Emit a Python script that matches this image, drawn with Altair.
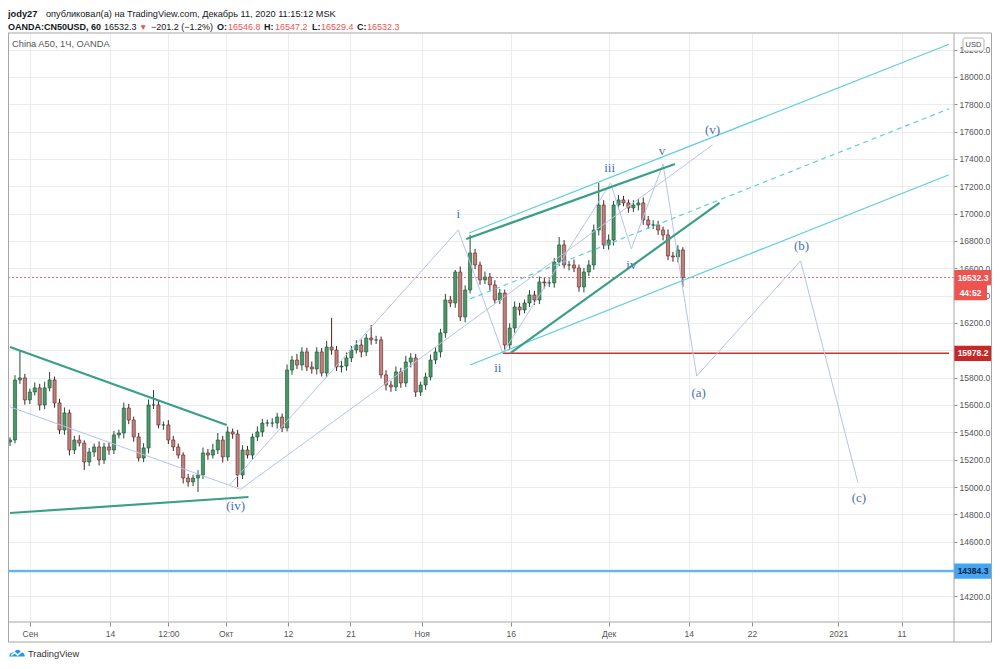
import json
import altair as alt
import pandas as pd

# ---------------- data ----------------
# hourly candles aggregated: one bar per step, closes in price units
closes = [15344, 15783, 15798, 15637, 15695, 15725, 15600, 15725, 15783, 15615,
          15417, 15542, 15271, 15344, 15322, 15183, 15256, 15293, 15198, 15293,
          15271, 15381, 15395, 15578, 15490, 15366, 15212, 15286, 15600, 15600,
          15454, 15454, 15344, 15293, 15234, 15066, 15037, 15066, 15088, 15249,
          15234, 15271, 15344, 15220, 15403, 15388, 15088, 15271, 15234, 15366,
          15403, 15468, 15468, 15468, 15512, 15432, 15856, 15929, 15893, 15988,
          15878, 15864, 15988, 15834, 16024, 16002, 15878, 15885, 15944, 16002,
          16039, 15988, 16090, 16076, 16076, 15820, 15746, 15732, 15842, 15761,
          15915, 15944, 15695, 15746, 15805, 15929, 15988, 16127, 16368, 16346,
          16573, 16244, 16441, 16712, 16624, 16515, 16536, 16478, 16368, 16419,
          16039, 16163, 16317, 16295, 16346, 16405, 16368, 16500, 16493, 16493,
          16646, 16771, 16624, 16624, 16602, 16463, 16573, 16624, 16880, 17063,
          16771, 16807, 17063, 17100, 17078, 17041, 17063, 17078, 16953, 16917,
          16917, 16880, 16844, 16690, 16683, 16734, 16532.3]
first_open = 15330
upper_wick = [20, 35, 204, 30, 25, 40, 30, 45, 59, 25,
              30, 40, 25, 30, 35, 20, 30, 25, 40, 30,
              35, 30, 25, 40, 30, 25, 30, 35, 40, 110,
              30, 25, 35, 30, 25, 20, 30, 25, 35, 40,
              30, 45, 51, 30, 40, 25, 30, 35, 30, 25,
              40, 30, 25, 35, 30, 25, 40, 30, 45, 35,
              30, 40, 35, 30, 45, 213, 30, 35, 40, 30,
              35, 40, 30, 95, 30, 25, 35, 30, 40, 30,
              45, 35, 30, 25, 30, 40, 35, 30, 45, 30,
              15, 40, 35, 132, 30, 25, 40, 30, 35, 30,
              25, 35, 40, 30, 25, 35, 30, 40, 30, 35,
              30, 58, 35, 30, 40, 25, 30, 35, 40, 161,
              35, 40, 30, 35, 30, 25, 35, 30, 40, 30,
              35, 30, 25, 40, 30, 35, 20]
lower_wick = [30, 25, 30, 35, 30, 25, 40, 30, 25, 35,
              30, 35, 40, 30, 25, 58, 30, 35, 40, 30,
              35, 30, 25, 40, 30, 35, 25, 30, 40, 30,
              25, 35, 30, 30, 25, 40, 35, 30, 102, 30,
              35, 25, 30, 40, 30, 35, 88, 30, 25, 30,
              30, 35, 25, 30, 40, 30, 25, 35, 30, 40,
              30, 35, 40, 25, 30, 35, 30, 40, 35, 30,
              25, 40, 30, 35, 30, 25, 40, 35, 30, 35,
              30, 40, 36, 30, 35, 25, 30, 40, 35, 30,
              35, 30, 40, 25, 30, 35, 30, 40, 25, 30,
              37, 30, 35, 40, 25, 30, 35, 30, 40, 30,
              35, 30, 25, 40, 30, 35, 40, 30, 35, 40,
              30, 35, 40, 30, 25, 35, 30, 40, 35, 30,
              30, 35, 40, 30, 35, 40, 70]

# time axis (bar number -> label)
tick_t = [4, 20.2, 32, 43.6, 56.2, 68.8, 83.2, 101.2, 121, 137.2, 150, 167.4, 180.2]
tick_labels = ["Сен", "14", "12:00", "Окт", "12", "21", "Ноя", "16", "Дек", "14", "22", "2021", "11"]
price_ticks = list(range(14200, 18201, 200))

# drawing tools: thick teal trend lines (t1, p1, t2, p2)
teal_t1 = [0, 0, 92.2, 101.2]
teal_p1 = [16024, 14810, 16814, 15981]
teal_t2 = [43.8, 48.2, 134.4, 143.4]
teal_p2 = [15454, 14927, 17363, 17078]

# cyan channel lines
cyan_t1 = [92.8, 93]
cyan_p1 = [16858, 15893]
cyan_t2 = [189.8, 189.8]
cyan_p2 = [18239, 17284]
dash_t1, dash_p1, dash_t2, dash_p2 = 93, 16376, 189.8, 17767

# lavender helper lines
lav_t1 = [0, 46.4]
lav_p1 = [15586, 14978]
lav_t2 = [46.4, 142]
lav_p2 = [14986, 17502]

# wave path
wave_t = [44.4, 90.6, 99.6, 121.4, 125.6, 132, 138.8, 159.8, 171.4]
wave_p = [15015, 16880, 15981, 17224, 16741, 17363, 15812, 16654, 15030]

# wave labels
lab_text = ["i", "ii", "iii", "iv", "v", "(v)", "(iv)", "(a)", "(b)", "(c)"]
lab_t = [90.6, 98.6, 121.2, 125.6, 131.8, 142, 45.6, 139.2, 160, 171.6]
lab_p = [16997, 15871, 17334, 16624, 17458, 17612, 14861, 15688, 16763, 14920]

support_level = 15978.2
support_start_t = 99.6
blue_level = 14384.3
last_price = 16532.3

# ---------------- build tables ----------------
opens = [first_open] + closes[:-1]
cdf = pd.DataFrame({
    "t": list(range(len(closes))),
    "open": opens,
    "close": closes,
})
cdf["high"] = [max(o, c) + w for o, c, w in zip(opens, closes, upper_wick)]
cdf["low"] = [min(o, c) - w for o, c, w in zip(opens, closes, lower_wick)]

W, H = 946, 589          # plot area
RW = 38                  # right price-axis strip
xs = alt.Scale(domain=[0.6, 189.8], nice=False, zero=False)
ys = alt.Scale(domain=[14012.7, 18321.0], nice=False, zero=False)

label_map = {str(t): l for t, l in zip(tick_t, tick_labels)}
label_expr = "(" + json.dumps(label_map, ensure_ascii=False) + ")[''+datum.value]"

FONT = "Liberation Sans"
xaxis = alt.Axis(values=tick_t, labelExpr=label_expr, grid=True, gridColor="#ececec",
                 domain=False, ticks=True, tickSize=4, tickColor="#8c8c8c",
                 labelFont=FONT, labelFontSize=8.5, labelColor="#555555",
                 labelPadding=3, title=None, labelFlush=False, labelOverlap=False)
yaxis = alt.Axis(orient="right", values=price_ticks, format=".1f", grid=True,
                 gridColor="#ececec", domain=False, ticks=True, tickSize=3,
                 tickColor="#8c8c8c", labelFont=FONT, labelFontSize=8.5,
                 labelColor="#555555", labelPadding=2, labelAlign="left",
                 title=None, labelFlush=False, labelOverlap=False)


def X(f):
    return alt.X(f, type="quantitative", scale=xs, axis=xaxis)


def Y(f):
    return alt.Y(f, type="quantitative", scale=ys, axis=yaxis)


layers = []

# horizontal levels
lvl = pd.DataFrame({"p": [last_price]})
layers.append(alt.Chart(lvl).mark_rule(color="#f26d69", strokeWidth=1, strokeDash=[2, 2],
                                       strokeCap="butt", opacity=1).encode(
    y=Y("p"), x=alt.value(0), x2=alt.value(W)))
blue = pd.DataFrame({"p": [blue_level]})
layers.append(alt.Chart(blue).mark_rule(color="#64b5f6", strokeWidth=2.2).encode(
    y=Y("p"), x=alt.value(0), x2=alt.value(W)))

# candles
up = "datum.close >= datum.open"
layers.append(alt.Chart(cdf).mark_rule(strokeWidth=1).encode(
    x=X("t"), y=Y("low"), y2="high",
    color=alt.condition(up, alt.value("#1d4f33"), alt.value("#4e1f1f"))))
layers.append(alt.Chart(cdf).mark_bar(size=3.2, strokeWidth=0.6).encode(
    x=X("t"), y=Y("open"), y2="close",
    fill=alt.condition(up, alt.value("#4a9868"), alt.value("#c0807b")),
    stroke=alt.condition(up, alt.value("#1d4f33"), alt.value("#5a2424"))))

# support red line
sup = pd.DataFrame({"t": [support_start_t], "t2": [189.8], "p": [support_level]})
layers.append(alt.Chart(sup).mark_rule(color="#d32f2f", strokeWidth=1.5).encode(
    x=X("t"), x2="t2", y=Y("p")))

# lavender helper lines + wave path
lav = pd.DataFrame({"t": lav_t1, "p": lav_p1, "t2": lav_t2, "p2": lav_p2})
layers.append(alt.Chart(lav).mark_rule(color="#b4c3e8", strokeWidth=1).encode(
    x=X("t"), y=Y("p"), x2="t2", y2="p2"))
wave = pd.DataFrame({"t": wave_t, "p": wave_p, "o": list(range(len(wave_t)))})
layers.append(alt.Chart(wave).mark_line(color="#b4c3e8", strokeWidth=1).encode(
    x=X("t"), y=Y("p"), order="o:Q"))

# cyan channel
cy = pd.DataFrame({"t": cyan_t1, "p": cyan_p1, "t2": cyan_t2, "p2": cyan_p2})
layers.append(alt.Chart(cy).mark_rule(color="#5ccfe0", strokeWidth=1.2).encode(
    x=X("t"), y=Y("p"), x2="t2", y2="p2"))
dsh = pd.DataFrame({"t": [dash_t1], "p": [dash_p1], "t2": [dash_t2], "p2": [dash_p2]})
layers.append(alt.Chart(dsh).mark_rule(color="#5ccfe0", strokeWidth=1.2, strokeDash=[5, 4]).encode(
    x=X("t"), y=Y("p"), x2="t2", y2="p2"))

# teal trend lines
tl = pd.DataFrame({"t": teal_t1, "p": teal_p1, "t2": teal_t2, "p2": teal_p2})
layers.append(alt.Chart(tl).mark_rule(color="#3a9f88", strokeWidth=2.2).encode(
    x=X("t"), y=Y("p"), x2="t2", y2="p2"))

# wave labels
lab = pd.DataFrame({"t": lab_t, "p": lab_p, "txt": lab_text})
layers.append(alt.Chart(lab).mark_text(font="Liberation Serif", fontSize=13, color="#4a70b6",
                                       align="center", baseline="middle").encode(
    x=X("t"), y=Y("p"), text="txt:N"))

# price boxes on the right axis
box = pd.DataFrame({
    "txt": ["16532.3", "44:52", "15978.2", "14384.3"],
    "p": [last_price, 16422, support_level, blue_level],
    "fill": ["#ef5350", "#ef5350", "#c62828", "#42a5f5"],
    "tcol": ["#ffffff", "#ffffff", "#ffffff", "#10233d"],
    "x2": [W + RW, W + RW - 5, W + RW, W + RW],
    "tx": [W + RW / 2, W + (RW - 5) / 2, W + RW / 2, W + RW / 2],
})
box["lo"] = box["p"] - 56
box["hi"] = box["p"] + 56
for _, r in box.iterrows():
    d = pd.DataFrame([r])
    layers.append(alt.Chart(d).mark_rect(color=r["fill"]).encode(
        x=alt.value(W), x2=alt.value(float(r["x2"])), y=Y("lo"), y2="hi"))
    layers.append(alt.Chart(d).mark_text(font=FONT, fontSize=8.5, fontWeight="bold",
                                         color=r["tcol"], align="center", baseline="middle").encode(
        x=alt.value(float(r["tx"])), y=Y("p"), text="txt:N"))

one = pd.DataFrame({"a": [0]})

# USD box
layers.append(alt.Chart(one).mark_rect(fill="white", stroke="#b5b5b5", strokeWidth=1, cornerRadius=2).encode(
    x=alt.value(955), x2=alt.value(976), y=alt.value(5), y2=alt.value(18)))
layers.append(alt.Chart(one).mark_text(text="USD", font=FONT, fontSize=7.5, color="#444444",
                                       align="center", baseline="middle").encode(
    x=alt.value(965.5), y=alt.value(11.5)))

# frame
FR = "#a6a6a6"
R = W + RW - 0.5
for (x1, x2, y1, y2) in [(0, R, 0, 0), (0, R, H, H), (0, R, H + 20, H + 20),
                         (0.5, 0.5, 0, H + 20), (W, W, 0, H + 20), (R, R, 0, H + 20)]:
    layers.append(alt.Chart(one).mark_rule(color=FR, strokeWidth=1).encode(
        x=alt.value(x1), x2=alt.value(x2), y=alt.value(y1), y2=alt.value(y2)))


def txt(s, x, y, size=9, weight="normal", color="#131722", font=FONT):
    return alt.Chart(one).mark_text(text=s, font=font, fontSize=size, fontWeight=weight,
                                    color=color, align="left", baseline="middle").encode(
        x=alt.value(x), y=alt.value(y))


RED = "#ef5350"
L1, L2 = -19.5, -6.5
layers += [
    txt("jody27", 0, L1, weight="bold", size=9.3),
    txt("опубликовал(а) на TradingView.com, Декабрь 11, 2020 11:15:12 MSK", 38, L1, size=9.2),
    txt("OANDA:CN50USD, 60", 0, L2, weight="bold"),
    txt("16532.3", 96, L2),
    txt("▼", 131, L2, color=RED, size=8.5),
    txt("−201.2 (−1.2%)", 143, L2),
    txt("O:", 209, L2, weight="bold"),
    txt("16546.8", 220, L2, color=RED),
    txt("H:", 256, L2, weight="bold"),
    txt("16547.2", 267, L2, color=RED),
    txt("L:", 304, L2, weight="bold"),
    txt("16529.4", 313, L2, color=RED),
    txt("C:", 349, L2, weight="bold"),
    txt("16532.3", 359, L2, color=RED),
    txt("China A50, 1Ч, OANDA", 4, 11, size=9.3, color="#555555"),
    txt("TradingView", 20, 621, size=9.3, color="#333333"),
]

cloud = "M-1,0.45 C-1,0.05 -0.65,-0.15 -0.35,-0.05 C-0.2,-0.5 0.35,-0.55 0.5,-0.1 C0.8,-0.15 1,0.1 1,0.45 Z"
zig = "M-0.75,0.3 L-0.3,-0.05 L0.1,0.25 L0.7,-0.25"
layers.append(alt.Chart(one).mark_point(shape=cloud, size=240, filled=True, color="#2196f3", opacity=1).encode(
    x=alt.value(9), y=alt.value(620)))
layers.append(alt.Chart(one).mark_point(shape=zig, size=240, filled=False, color="white", strokeWidth=1.5, opacity=1).encode(
    x=alt.value(9), y=alt.value(620)))

chart = alt.layer(*layers).properties(
    width=W, height=H,
    autosize=alt.AutoSizeParams(type="none"),
    padding={"left": 0, "top": 25, "right": RW, "bottom": 39},
    background="white",
).configure_view(stroke=None)

chart.save("out.html", embed_options={"renderer": "svg", "actions": False})
